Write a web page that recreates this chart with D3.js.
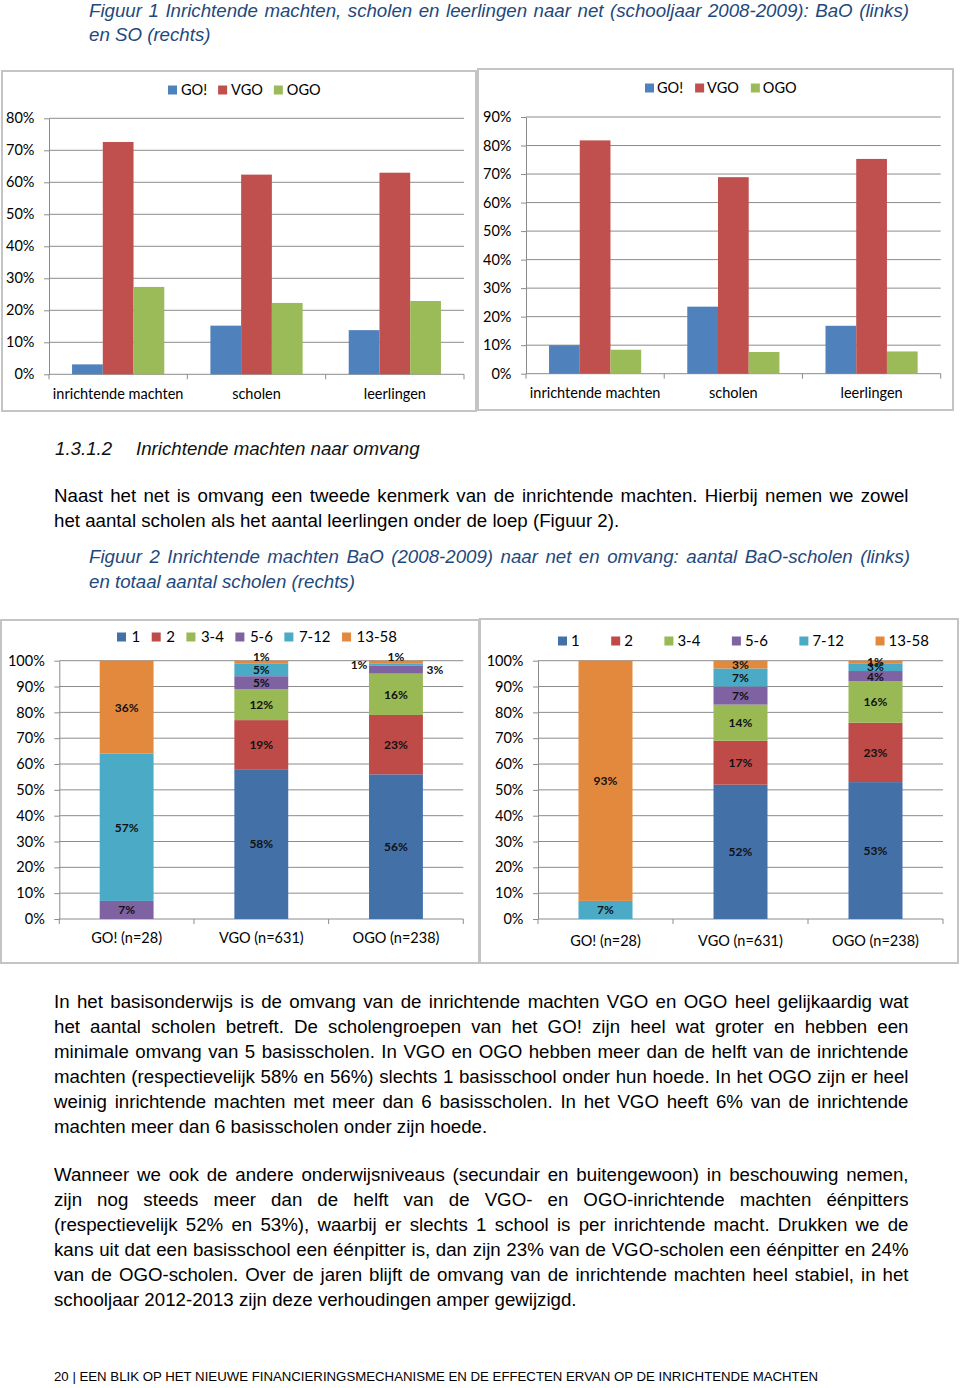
<!DOCTYPE html>
<html><head><meta charset="utf-8">
<script src="https://cdn.jsdelivr.net/npm/d3@7"></script>
<style>body{margin:0;background:#fff} svg{display:block}</style>
</head><body><svg id="page" width="960" height="1388"></svg>
<script>
// ---------------- DATA ----------------
// Figuur 1: net shares (percent)
const netCategories = ["inrichtende machten", "scholen", "leerlingen"];
const netSeries = ["GO!", "VGO", "OGO"];
const baoGO  = [3.1, 15.2, 13.8];
const baoVGO = [72.6, 62.4, 63.0];
const baoOGO = [27.3, 22.3, 22.9];
const soGO   = [10.0, 23.5, 16.8];
const soVGO  = [81.8, 68.9, 75.3];
const soOGO  = [8.4, 7.6, 7.8];
const baoTickLabels = ["0%", "10%", "20%", "30%", "40%", "50%", "60%", "70%", "80%"];
const soTickLabels  = ["0%", "10%", "20%", "30%", "40%", "50%", "60%", "70%", "80%", "90%"];

// Figuur 2: size classes (percent)
const sizeCategories = ["GO! (n=28)", "VGO (n=631)", "OGO (n=238)"];
const sizeSeries = ["1", "2", "3-4", "5-6", "7-12", "13-58"];
const baoSize1    = [0, 58, 56];
const baoSize2    = [0, 19, 23];
const baoSize3_4  = [0, 12, 16];
const baoSize5_6  = [7, 5, 3];
const baoSize7_12 = [57, 5, 1];
const baoSize13_58 = [36, 1, 1];
const totSize1    = [0, 52, 53];
const totSize2    = [0, 17, 23];
const totSize3_4  = [0, 14, 16];
const totSize5_6  = [0, 7, 4];
const totSize7_12 = [7, 7, 3];
const totSize13_58 = [93, 3, 1];
const sizeTickLabels = ["0%", "10%", "20%", "30%", "40%", "50%", "60%", "70%", "80%", "90%", "100%"];
// label placement exceptions (series|category -> where)
const baoLabelPlacement = {"13-58|VGO (n=631)": "above", "13-58|OGO (n=238)": "above", "7-12|OGO (n=238)": "left", "5-6|OGO (n=238)": "right"};
const totLabelPlacement = {};

// ---------------- TEXT ----------------
const caption1 = ["Figuur 1 Inrichtende machten, scholen en leerlingen naar net (schooljaar 2008-2009): BaO (links)", "en SO (rechts)"];
const para1 = ["Naast het net is omvang een tweede kenmerk van de inrichtende machten. Hierbij nemen we zowel", "het aantal scholen als het aantal leerlingen onder de loep (Figuur 2)."];
const caption2 = ["Figuur 2 Inrichtende machten BaO (2008-2009) naar net en omvang: aantal BaO-scholen (links)", "en totaal aantal scholen (rechts)"];
const para2 = [
 "In het basisonderwijs is de omvang van de inrichtende machten VGO en OGO heel gelijkaardig wat",
 "het aantal scholen betreft. De scholengroepen van het GO! zijn heel wat groter en hebben een",
 "minimale omvang van 5 basisscholen. In VGO en OGO hebben meer dan de helft van de inrichtende",
 "machten (respectievelijk 58% en 56%) slechts 1 basisschool onder hun hoede. In het OGO zijn er heel",
 "weinig inrichtende machten met meer dan 6 basisscholen. In het VGO heeft 6% van de inrichtende",
 "machten meer dan 6 basisscholen onder zijn hoede."];
const para3 = [
 "Wanneer we ook de andere onderwijsniveaus (secundair en buitengewoon) in beschouwing nemen,",
 "zijn nog steeds meer dan de helft van de VGO- en OGO-inrichtende machten éénpitters",
 "(respectievelijk 52% en 53%), waarbij er slechts 1 school is per inrichtende macht. Drukken we de",
 "kans uit dat een basisschool een éénpitter is, dan zijn 23% van de VGO-scholen een éénpitter en 24%",
 "van de OGO-scholen. Over de jaren blijft de omvang van de inrichtende machten heel stabiel, in het",
 "schooljaar 2012-2013 zijn deze verhoudingen amper gewijzigd."];
const footer = "20 | EEN BLIK OP HET NIEUWE FINANCIERINGSMECHANISME EN DE EFFECTEN ERVAN OP DE INRICHTENDE MACHTEN";

// ---------------- STYLE ----------------
const svg = d3.select("#page");
const FONT_CHART = "Lato, Carlito, 'Open Sans', sans-serif";
const FONT_DOC = "'Liberation Sans', Arial, sans-serif";
const GRID = "#8c8c8c";
const netColors = ["#4F81BD", "#C0504D", "#9BBB59"];
const sizeColors = ["#4470A8", "#BE4B48", "#98B954", "#7E62A1", "#4BAAC6", "#E3893E"];
const CAPTION = "#1F497D";

// ---------------- DOCUMENT TEXT ----------------
function textBlock(lines, o) {
  lines.forEach((line, i) => {
    const y = o.y + i * o.lh;
    const mk = (t) => svg.append("text").attr("y", y).attr("font-family", FONT_DOC)
      .attr("font-size", o.fs).attr("font-style", o.italic ? "italic" : "normal")
      .attr("fill", o.color).text(t);
    if (i === lines.length - 1) { mk(line).attr("x", o.x); return; }
    const words = line.split(" ");
    const nodes = words.map(mk);
    const widths = nodes.map(n => n.node().getComputedTextLength());
    const gap = (o.right - o.x - d3.sum(widths)) / (words.length - 1);
    let cx = o.x;
    nodes.forEach((n, k) => { n.attr("x", cx); cx += widths[k] + gap; });
  });
}
textBlock(caption1, {x: 89, right: 909, y: 16.5, lh: 24.5, fs: 18.7, italic: true, color: CAPTION});
svg.append("text").attr("x", 55).attr("y", 455).attr("font-family", FONT_DOC).attr("font-size", 18.7)
  .attr("font-style", "italic").attr("fill", "#111").text("1.3.1.2");
svg.append("text").attr("x", 136).attr("y", 455).attr("font-family", FONT_DOC).attr("font-size", 18.7)
  .attr("font-style", "italic").attr("fill", "#111").text("Inrichtende machten naar omvang");
textBlock(para1, {x: 54, right: 908.5, y: 502, lh: 25, fs: 18.7, italic: false, color: "#000"});
textBlock(caption2, {x: 89, right: 910, y: 563, lh: 25, fs: 18.7, italic: true, color: CAPTION});
textBlock(para2, {x: 54, right: 908.5, y: 1008, lh: 25, fs: 18.7, italic: false, color: "#000"});
textBlock(para3, {x: 54, right: 908.5, y: 1181, lh: 25, fs: 18.7, italic: false, color: "#000"});
svg.append("text").attr("x", 54).attr("y", 1381).attr("font-family", FONT_DOC).attr("font-size", 12.6)
  .attr("fill", "#000").attr("textLength", 764).attr("lengthAdjust", "spacingAndGlyphs").text(footer);

// ---------------- CHART HELPERS ----------------
function panel(x, y, w, h) {
  svg.append("rect").attr("x", x).attr("y", y).attr("width", w).attr("height", h)
    .attr("fill", "#fff").attr("stroke", "#c4c4c4").attr("stroke-width", 2);
}
function legend(items, colors, x, yc, offset, gap, fs) {
  const g = svg.append("g");
  let cx = x;
  items.forEach((t, i) => {
    g.append("rect").attr("x", cx).attr("y", yc - 4.5).attr("width", 9).attr("height", 9).attr("fill", colors[i]);
    const tx = g.append("text").attr("x", cx + offset).attr("y", yc).attr("dy", "0.36em")
      .attr("font-family", FONT_CHART).attr("font-size", fs).attr("fill", "#000").text(t);
    cx = cx + offset + tx.node().getComputedTextLength() + gap;
  });
}
function frame(c, x, y, tickLabels) {
  const vals = tickLabels.map(parseFloat);
  const g = svg.append("g");
  g.selectAll("line.grid").data(vals.filter(v => v > 0)).join("line")
    .attr("x1", c.x0).attr("x2", c.x1).attr("y1", d => y(d)).attr("y2", d => y(d))
    .attr("stroke", GRID).attr("stroke-width", 1);
  const ya = g.append("g").attr("transform", `translate(${c.x0},0)`)
    .call(d3.axisLeft(y).tickValues(vals).tickSize(5).tickSizeOuter(0).tickPadding(9.5)
      .tickFormat((d, i) => tickLabels[i]));
  ya.selectAll("path,line").attr("stroke", GRID);
  ya.selectAll("text").attr("font-family", FONT_CHART).attr("font-size", 14.5).attr("fill", "#000");
  g.append("line").attr("x1", c.x0).attr("x2", c.x1).attr("y1", y(0)).attr("y2", y(0)).attr("stroke", GRID);
  const step = (c.x1 - c.x0) / x.domain().length;
  d3.range(x.domain().length + 1).forEach(i => {
    g.append("line").attr("x1", c.x0 + i * step).attr("x2", c.x0 + i * step)
      .attr("y1", y(0)).attr("y2", y(0) + 5).attr("stroke", GRID);
  });
  const xa = g.append("g").attr("transform", `translate(0,${c.xLabelY})`)
    .call(d3.axisBottom(x).tickSize(0).tickPadding(0));
  xa.select("path").remove();
  xa.selectAll("text").attr("dy", "0.36em").attr("font-family", FONT_CHART).attr("font-size", 14.5).attr("fill", "#000");
  return g;
}

function groupedChart(c, seriesArrays, tickLabels) {
  panel(c.bx, c.by, c.bw, c.bh);
  legend(netSeries, netColors, c.legX, c.legY, c.legOff, c.legGap, 14.5);
  const max = parseFloat(tickLabels[tickLabels.length - 1]);
  const y = d3.scaleLinear().domain([0, max]).range([c.y0, c.yTop]);
  const x = d3.scaleBand().domain(netCategories).range([c.x0, c.x1]).padding(0);
  const xs = d3.scaleBand().domain(netSeries).range([0, x.bandwidth()]).paddingInner(0).paddingOuter(0.75);
  frame(c, x, y, tickLabels);
  const rows = [];
  netSeries.forEach((s, si) => netCategories.forEach((cat, ci) => rows.push({s, cat, v: seriesArrays[si][ci], si})));
  svg.append("g").selectAll("rect").data(rows).join("rect")
    .attr("x", d => x(d.cat) + xs(d.s)).attr("width", xs.bandwidth())
    .attr("y", d => y(d.v)).attr("height", d => y(0) - y(d.v))
    .attr("fill", d => netColors[d.si]);
}

function stackedChart(c, seriesArrays, tickLabels, placement) {
  panel(c.bx, c.by, c.bw, c.bh);
  legend(sizeSeries, sizeColors, c.legX, c.legY, c.legOff, c.legGap, 15);
  const y = d3.scaleLinear().domain([0, 100]).range([c.y0, c.yTop]);
  const x = d3.scaleBand().domain(sizeCategories).range([c.x0, c.x1]).paddingInner(0.6).paddingOuter(0.3);
  frame(c, x, y, tickLabels);
  const table = sizeCategories.map((cat, ci) => {
    const r = {cat};
    sizeSeries.forEach((s, si) => r[s] = seriesArrays[si][ci]);
    return r;
  });
  const stack = d3.stack().keys(sizeSeries)(table);
  const g = svg.append("g");
  stack.forEach((layer, si) => {
    g.selectAll(null).data(layer).join("rect")
      .attr("x", d => x(d.data.cat)).attr("width", x.bandwidth())
      .attr("y", d => y(d[1])).attr("height", d => y(d[0]) - y(d[1]))
      .attr("fill", sizeColors[si]);
  });
  const lg = svg.append("g");
  stack.forEach((layer, si) => {
    layer.forEach(d => {
      const v = d[1] - d[0];
      if (v <= 0) return;
      const where = placement[layer.key + "|" + d.data.cat] || "center";
      let lx = x(d.data.cat) + x.bandwidth() / 2, ly = y((d[0] + d[1]) / 2);
      if (where === "above") ly = y(d[1]) - 4.5;
      if (where === "left") lx = x(d.data.cat) - 10;
      if (where === "right") lx = x(d.data.cat) + x.bandwidth() + 12;
      lg.append("text").attr("x", lx).attr("y", ly).attr("dy", "0.36em").attr("text-anchor", "middle")
        .attr("font-family", FONT_CHART).attr("font-size", 12).attr("font-weight", "bold")
        .attr("fill", "#111").text(v + "%");
    });
  });
}

// ---------------- CHARTS ----------------
groupedChart({bx: 2, by: 71, bw: 474, bh: 340, x0: 49, x1: 464, y0: 374.3, yTop: 118.3, xLabelY: 394,
  legX: 168, legY: 90, legOff: 13, legGap: 11}, [baoGO, baoVGO, baoOGO], baoTickLabels);
groupedChart({bx: 478, by: 69, bw: 475, bh: 341, x0: 526, x1: 940.7, y0: 373.7, yTop: 117, xLabelY: 393,
  legX: 645, legY: 88, legOff: 12, legGap: 12}, [soGO, soVGO, soOGO], soTickLabels);
stackedChart({bx: 1, by: 620, bw: 478, bh: 343, x0: 59.3, x1: 463.3, y0: 919, yTop: 660.7, xLabelY: 937.7,
  legX: 117, legY: 637, legOff: 14.5, legGap: 11.5},
  [baoSize1, baoSize2, baoSize3_4, baoSize5_6, baoSize7_12, baoSize13_58], sizeTickLabels, baoLabelPlacement);
stackedChart({bx: 480, by: 619, bw: 478, bh: 344, x0: 538, x1: 943, y0: 919, yTop: 660.7, xLabelY: 941,
  legX: 558, legY: 641, legOff: 13, legGap: 31.5},
  [totSize1, totSize2, totSize3_4, totSize5_6, totSize7_12, totSize13_58], sizeTickLabels, totLabelPlacement);
</script></body></html>
